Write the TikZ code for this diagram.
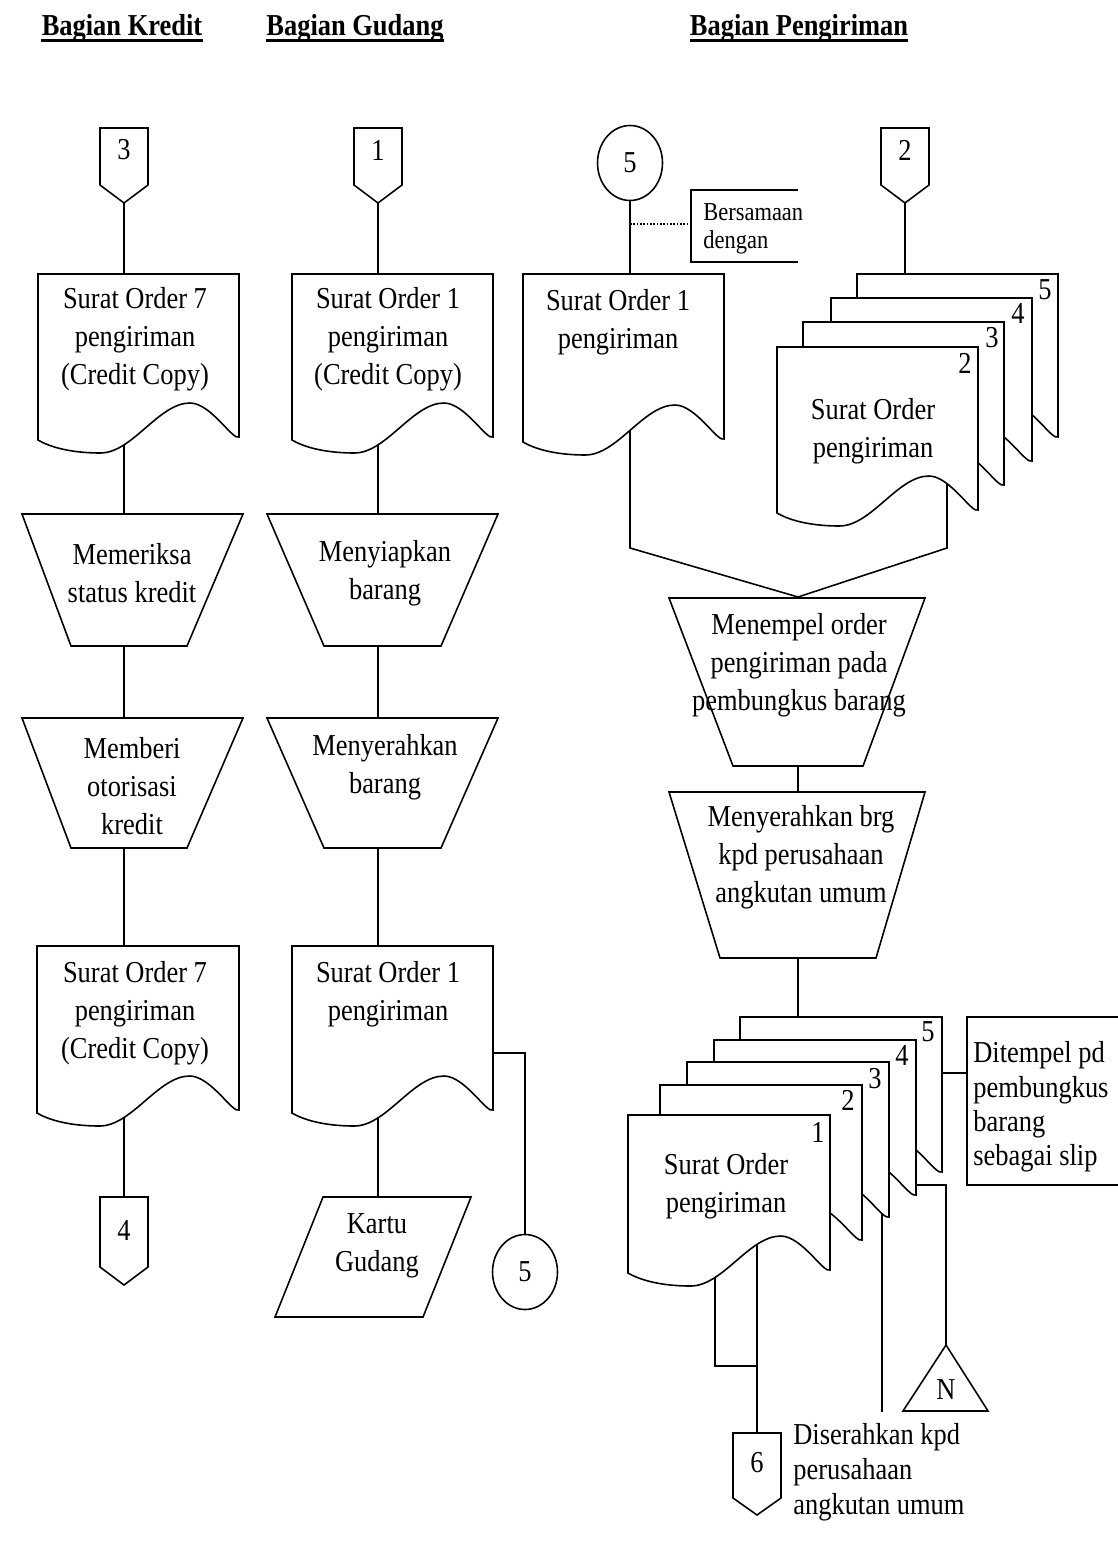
\documentclass[tikz,border=0pt]{standalone}
\usepackage{fontspec}
\setmainfont{Liberation Serif}[FakeStretch=0.87]
\usetikzlibrary{shapes.geometric}

\pgfdeclarelayer{bg}
\pgfsetlayers{bg,main}

\newcommand{\fnt}{\fontsize{17.3}{21.6}\selectfont}
% document symbol: left, top, width, height
\newcommand{\docshape}[4]{%
  \draw[shp] (#1,#2+#4) -- (#1,#2) -- (#1+#3,#2) -- (#1+#3,#2+#4-3)
    .. controls (#1+0.97*#3,#2+#4+1) and (#1+0.86*#3,#2+#4-37) .. (#1+0.756*#3,#2+#4-37)
    .. controls (#1+0.6*#3,#2+#4-37) and (#1+0.47*#3,#2+#4+13) .. (#1+0.31*#3,#2+#4+13)
    .. controls (#1+0.15*#3,#2+#4+13) and (#1+0.05*#3,#2+#4+6) .. (#1,#2+#4) -- cycle;}
% off-page connector: centre x, top, side bottom, tip
\newcommand{\offpage}[4]{%
  \draw[shp] (#1-24,#2) -- (#1+24,#2) -- (#1+24,#3) -- (#1,#4) -- (#1-24,#3) -- cycle;}
% manual operation: top left, top right, bottom left, bottom right, top, bottom
\newcommand{\trap}[6]{%
  \draw[shp] (#1,#5) -- (#2,#5) -- (#4,#6) -- (#3,#6) -- cycle;}

\begin{document}
\begin{tikzpicture}[x=0.02cm, y=-0.02cm,
    shp/.style={draw, fill=white, line width=0.9pt},
    ln/.style={draw, line width=0.9pt},
    txt/.style={align=center, inner sep=0pt, font=\fnt},
    num/.style={inner sep=0pt, font=\fnt},
    note/.style={align=left, inner sep=0pt, anchor=west},
    head/.style={inner sep=0pt, anchor=base, font=\fnt\bfseries},
    ell/.style={ellipse, draw, fill=white, line width=0.9pt, inner sep=0pt,
      minimum width=1.3cm, minimum height=1.5cm, font=\fnt}]
\useasboundingbox (0,0) rectangle (1117,1557);

% headings
\node[head] (hk) at (122,36) {Bagian Kredit};
\node[head] (hg) at (355,36) {Bagian Gudang};
\node[head] (hp) at (799,36) {Bagian Pengiriman};
\foreach \h in {hk,hg,hp}
  \draw[line width=1.5pt] ([yshift=-2.5pt]\h.base west) -- ([yshift=-2.5pt]\h.base east);

% Bagian Kredit
\offpage{124}{128}{185}{203}
\node[num] (c3) at (124,150) {3};
\docshape{38}{274}{201}{166}
\node[txt] (d1) at (135,339) {Surat Order 7\\pengiriman\\(Credit Copy)};
\trap{22}{243}{71}{187}{514}{646}
\node[txt] (t1) at (132,573) {Memeriksa\\status kredit};
\trap{22}{243}{71}{187}{718}{848}
\node[txt] (t2) at (132,786) {Memberi\\otorisasi\\kredit};
\docshape{37}{946}{202}{167}
\node[txt] (d2) at (135,1013) {Surat Order 7\\pengiriman\\(Credit Copy)};
\offpage{124}{1197}{1267}{1285}
\node[num] (c4) at (124,1230) {4};

% Bagian Gudang
\offpage{378}{128}{185}{203}
\node[num] (c1) at (378,150) {1};
\docshape{292}{274}{201}{166}
\node[txt] (d3) at (388,339) {Surat Order 1\\pengiriman\\(Credit Copy)};
\trap{267}{498}{324}{441}{514}{646}
\node[txt] (t3) at (385,573) {Menyiapkan\\barang};
\trap{267}{498}{324}{441}{718}{848}
\node[txt] (t4) at (385,767) {Menyerahkan\\barang};
\docshape{292}{946}{201}{167}
\node[txt] (d4) at (388,994) {Surat Order 1\\pengiriman};
\draw[shp] (323,1197) -- (471,1197) -- (423,1317) -- (275,1317) -- cycle;
\node[txt] (kg) at (377,1246) {Kartu\\Gudang};
\node[ell] (k5b) at (525,1272) {5};
\coordinate (d4r) at (480,1053);

% Bagian Pengiriman
\node[ell] (k5a) at (630,163) {5};
\draw[ln] (798,190) -- (691,190) -- (691,262) -- (798,262);
\node[note, font=\fontsize{14.7}{15.9}\selectfont] (bs) at (703,229) {Bersamaan\\dengan};
\coordinate (bsl) at (691,224);
\docshape{523}{274}{201}{168}
\node[txt] (d5) at (618,322) {Surat Order 1\\pengiriman};
\offpage{905}{128}{185}{203}
\node[num] (c2) at (905,150) {2};
\docshape{857}{274}{201}{166}
\docshape{831}{298}{201}{166}
\docshape{803}{322}{201}{166}
\docshape{777}{347}{201}{166}
\node[txt] (sa) at (873,431) {Surat Order\\pengiriman};
\node[num] (a2) at (965,363) {2};
\node[num] (a3) at (992,338) {3};
\node[num] (a4) at (1018,313) {4};
\node[num] (a5) at (1045,290) {5};
\coordinate (ml) at (630,548);
\coordinate (mj) at (798,597);
\coordinate (mr) at (947,548);
\trap{669}{925}{733}{863}{598}{766}
\node[txt] (t5) at (799,665) {Menempel order\\pengiriman pada\\pembungkus barang};
\trap{669}{925}{720}{876}{792}{958}
\node[txt] (t6) at (801,857) {Menyerahkan brg\\kpd perusahaan\\angkutan umum};
\docshape{740}{1017}{202}{158}
\docshape{714}{1040}{202}{158}
\docshape{687}{1062}{202}{158}
\docshape{660}{1085}{202}{158}
\docshape{628}{1115}{202}{158}
\node[txt] (sb) at (726,1186) {Surat Order\\pengiriman};
\node[num] (b1) at (818,1132) {1};
\node[num] (b2) at (848,1100) {2};
\node[num] (b3) at (875,1079) {3};
\node[num] (b4) at (902,1055) {4};
\node[num] (b5) at (928,1032) {5};
\draw[ln] (1125,1017) -- (967,1017) -- (967,1185) -- (1125,1185);
\node[note, font=\fontsize{17.3}{19.5}\selectfont] (slip) at (973,1107) {Ditempel pd\\pembungkus\\barang\\sebagai slip};
\coordinate (sl) at (967,1073);
\draw[shp] (946,1345) -- (988,1411) -- (903,1411) -- cycle;
\node[num] (nn) at (946,1390) {N};
\offpage{757}{1433}{1498}{1515}
\node[num] (c6) at (757,1463) {6};
\node[note, font=\fontsize{17.3}{19.8}\selectfont] (dk) at (793,1472) {Diserahkan kpd\\perusahaan\\angkutan umum};
\coordinate (jb) at (715,1366);
\coordinate (e3) at (882,1412);
\coordinate (e4) at (915,1185);

% connectors, behind the symbols
\begin{pgfonlayer}{bg}
\draw[ln] (c3) -- (c3 |- d1);
\draw[ln] (c3 |- d1) -- (c3 |- t1);
\draw[ln] (c3 |- t1) -- (c3 |- t2);
\draw[ln] (c3 |- t2) -- (c3 |- d2);
\draw[ln] (c3 |- d2) -- (c4);
\draw[ln] (c1) -- (c1 |- d3);
\draw[ln] (c1 |- d3) -- (c1 |- t3);
\draw[ln] (c1 |- t3) -- (c1 |- t4);
\draw[ln] (c1 |- t4) -- (c1 |- d4);
\draw[ln] (c1 |- d4) -- (c1 |- kg);
\draw[ln] (d4r) -| (k5b);
\draw[ln] (k5a) -- (k5a |- d5);
\draw[ln, densely dotted] (k5a |- bsl) -- (bsl);
\draw[ln] (c2) -- (c2 |- sa);
\draw[ln] (k5a |- d5) -- (ml) -- (mj) -- (mr) -- (mr |- sa);
\draw[ln] (mj |- t5) -- (mj |- t6);
\draw[ln] (mj |- t6) -- (mj |- b5);
\draw[ln] (b5 |- sl) -- (sl);
\draw[ln] (jb |- sb) -- (jb) -- (c6 |- jb);
\draw[ln] (c6 |- sb) -- (c6);
\draw[ln] (e3 |- b3) -- (e3);
\draw[ln] (e4) -| (nn);
\end{pgfonlayer}
\end{tikzpicture}
\end{document}
